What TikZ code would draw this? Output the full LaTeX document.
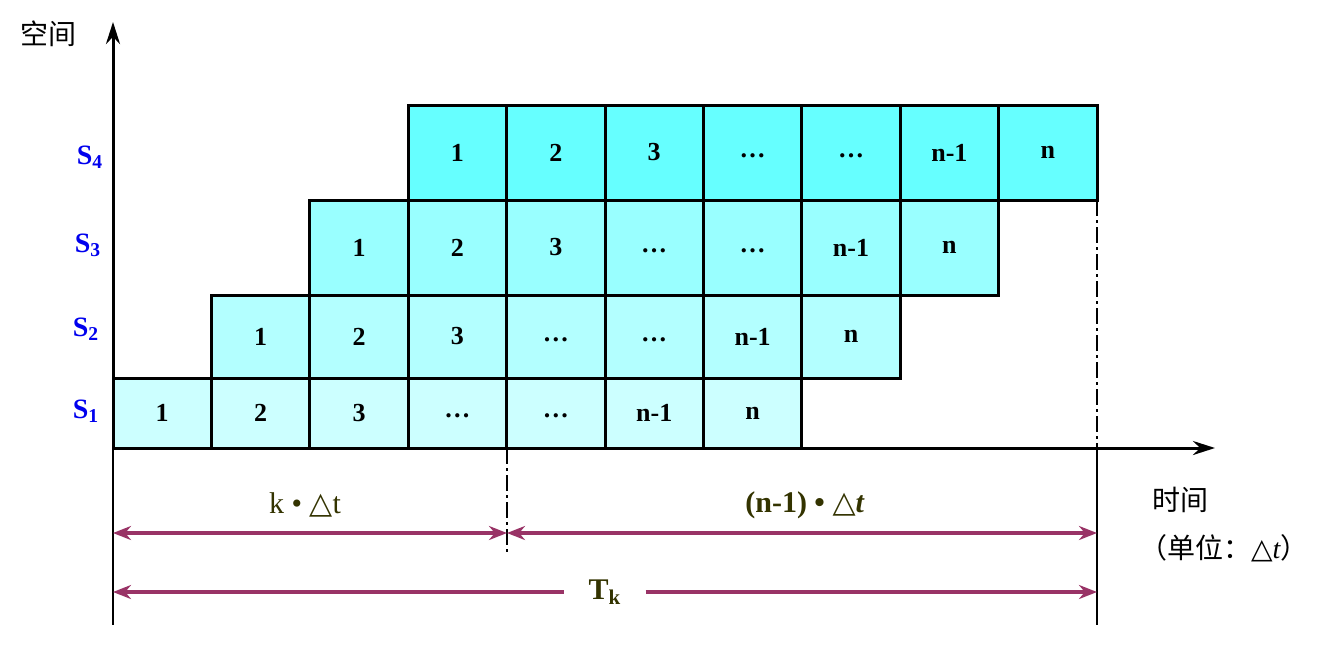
\documentclass[tikz,border=0pt]{standalone}
\usepackage{fontspec}
\setmainfont{Liberation Serif}
\newfontfamily\cjk{Noto Sans CJK SC}
\newfontfamily\dv{DejaVu Sans}
\usetikzlibrary{arrows.meta}
\definecolor{cA}{HTML}{CCFFFF}
\definecolor{cB}{HTML}{B3FFFF}
\definecolor{cC}{HTML}{99FFFF}
\definecolor{cD}{HTML}{66FFFF}
\definecolor{mar}{HTML}{993366}
\definecolor{olv}{HTML}{333300}
\definecolor{sblue}{HTML}{0000EE}
\begin{document}
\begin{tikzpicture}[x=0.5pt,y=-0.5pt,
  cell/.style={draw,line width=1.5pt,minimum width=49.2pt,minimum height=#1,inner sep=0pt,outer sep=0pt,font=\bfseries\fontsize{13}{13}\selectfont},
  dim/.style={mar,line width=1.8pt,{Stealth[length=9pt,width=7pt]}-{Stealth[length=9pt,width=7pt]}},
  slab/.style={text=sblue,font=\bfseries\fontsize{14}{14}\selectfont},
  ax/.style={line width=1.5pt,-{Stealth[length=11pt,width=7pt]}}]
\useasboundingbox (0,0) rectangle (1341,661);
\foreach \r/\yc/\h/\col/\xs/\labs in {
  1/413/35pt/cA/113/{1,2,3,\dots,\dots,n-1,n},
  2/336.5/41.5pt/cB/211.4/{1,2,3,\dots,\dots,n-1,n},
  3/247.5/47.5pt/cC/309.8/{1,2,3,\dots,\dots,n-1,n},
  4/152.5/47.5pt/cD/408.2/{1,2,3,\dots,\dots,n-1,n}}{
  \foreach \t [count=\i] in \labs {
    \node[cell=\h,fill=\col] (c\r-\i) at ({\xs+49.2+98.4*(\i-1)},\yc) {\raisebox{-5pt}{\t}};
  }
}
\node[slab] (s1) at (86,411) {S\textsubscript{1}};
\node[slab] (s2) at (86,329) {S\textsubscript{2}};
\node[slab] (s3) at (88,245) {S\textsubscript{3}};
\node[slab] (s4) at (90,157) {S\textsubscript{4}};
\coordinate (o) at (113,448);
\coordinate (ytop) at (113,22);
\coordinate (xend) at (1215,448);
\draw[ax] (o) -- (ytop);
\draw[ax] (o) -- (xend);
\node[font=\cjk\fontsize{14}{14}\selectfont] (ylab) at (48,34) {空间};
\node[font=\cjk\fontsize{14}{14}\selectfont] (xlab) at (1180,500) {时间};
\node[font=\cjk\fontsize{14}{14}\selectfont,anchor=west] (unit) at (1132,548) {（单位：{\dv △}{\fontspec{Liberation Serif}\textit{t}}）};
\coordinate (g1a) at (113,448); \coordinate (g1b) at (113,625);
\coordinate (g2a) at (1097,200); \coordinate (g2b) at (1097,448); \coordinate (g2c) at (1097,625);
\coordinate (g3a) at (507,448); \coordinate (g3b) at (507,555);
\draw[line width=1.2pt] (g1a) -- (g1b);
\draw[line width=1.2pt,dash pattern=on 8pt off 2pt on 1.5pt off 2pt] (g2a) -- (g2b);
\draw[line width=1.2pt] (g2b) -- (g2c);
\draw[line width=1.2pt,dash pattern=on 8pt off 2pt on 1.5pt off 2pt] (g3a) -- (g3b);
\coordinate (d1a) at (113,533); \coordinate (d1b) at (507,533); \coordinate (d1c) at (1097,533);
\draw[dim] (d1a) -- (d1b);
\draw[dim] (d1b) -- (d1c);
\node[text=olv,font=\fontsize{15}{15}\selectfont] (k) at (305,505) {k • {\dv △}t};
\node[text=olv,font=\bfseries\fontsize{15}{15}\selectfont] (n1) at (805,505) {(n-1) • {\dv △}\textit{t}};
\coordinate (d2a) at (113,592); \coordinate (d2b) at (1097,592);
\node[text=olv,font=\bfseries\fontsize{15}{15}\selectfont,inner xsep=12pt] (tk) at (605,592) {\raisebox{-4pt}{T\textsubscript{k}}};
\draw[dim,{Stealth[length=9pt,width=7pt]}-] (d2a) -- (tk.west);
\draw[dim,-{Stealth[length=9pt,width=7pt]}] (tk.east) -- (d2b);
\end{tikzpicture}
\end{document}
